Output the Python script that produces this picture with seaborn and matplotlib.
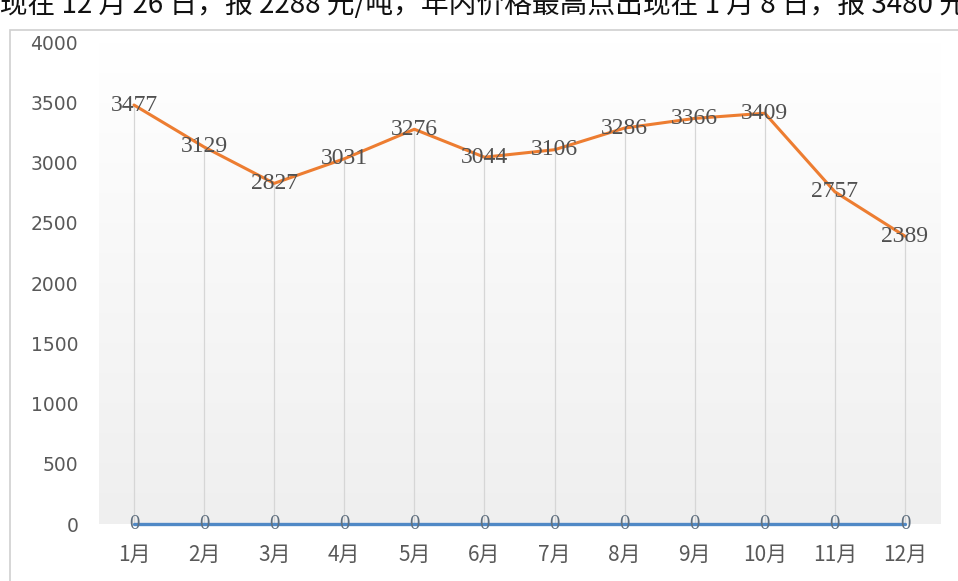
import numpy as np
import pandas as pd
import seaborn as sns
import matplotlib.pyplot as plt
from matplotlib.colors import LinearSegmentedColormap
from matplotlib.patches import Rectangle

# data
months = ['1月', '2月', '3月', '4月', '5月', '6月', '7月', '8月', '9月', '10月', '11月', '12月']
price = [3477, 3129, 2827, 3031, 3276, 3044, 3106, 3286, 3366, 3409, 2757, 2389]
zero_series = [0] * 12
y_ticks = [0, 500, 1000, 1500, 2000, 2500, 3000, 3500, 4000]
top_text = '出现在 12 月 26 日，报 2288 元/吨，年内价格最高点出现在 1 月 8 日，报 3480 元/吨'

sns.set_style('white')
plt.rcParams['font.family'] = ['Noto Sans CJK SC', 'DejaVu Sans']

df = pd.DataFrame({'month': months, 'price': price, 'zero': zero_series})

fig = plt.figure(figsize=(9.58, 5.81), dpi=100)
ax = fig.add_axes([0.1033, 0.0981, 0.8779, 0.8296])

# chart frame
fig.patches.append(Rectangle((10 / 958, -0.05), 1.0, 1 - 30 / 581 + 0.05,
                             transform=fig.transFigure, fill=False,
                             edgecolor='#d0d0d0', linewidth=1.2, zorder=0))
# paragraph text cut by the top edge
fig.text(-0.029, 0.992, top_text, fontsize=20, color='#111111',
         va='center', ha='left', family=['Noto Sans CJK SC', 'DejaVu Sans'])

# gradient plot area: light gray at the bottom, white at the top
grad = np.linspace(0, 1, 256).reshape(-1, 1)
cmap = LinearSegmentedColormap.from_list('g', ['#efefef', '#ffffff'])
ax.imshow(grad, cmap=cmap, aspect='auto', origin='lower',
          extent=(-0.5, 11.5, 0, 4000), zorder=0)

# drop lines
ax.vlines(range(len(months)), 0, df['price'], color='#d6d6d6', linewidth=0.9, zorder=1)

sns.lineplot(data=df, x='month', y='price', ax=ax, color='#ED7D31', linewidth=2.2,
             sort=False, zorder=3)
sns.lineplot(data=df, x='month', y='zero', ax=ax, color='#5089c6', linewidth=2.4,
             sort=False, zorder=3, clip_on=False)

for i, v in enumerate(df['price']):
    ax.text(i, v, str(v), ha='center', va='center', fontsize=17,
            family='Liberation Serif', color='#505050', zorder=4)
for i, v in enumerate(df['zero']):
    ax.text(i, v, str(v), ha='center', va='center', fontsize=15,
            family='Liberation Serif', color='#607080', zorder=4, clip_on=False)

ax.set_xlim(-0.5, 11.5)
ax.set_ylim(0, 4000)
ax.set_yticks(y_ticks)
ax.set_yticklabels([str(t) for t in y_ticks])
ax.set_xticks(range(len(months)))
ax.set_xticklabels(months)
ax.tick_params(axis='y', length=0, pad=15, labelsize=13.5, labelcolor='#595959')
ax.tick_params(axis='x', length=0, pad=14, labelsize=15, labelcolor='#595959')
for lab in ax.get_yticklabels():
    lab.set_family('DejaVu Sans')
ax.set_xlabel('')
ax.set_ylabel('')
for s in ax.spines.values():
    s.set_visible(False)

fig.savefig('out.png', dpi=100)
